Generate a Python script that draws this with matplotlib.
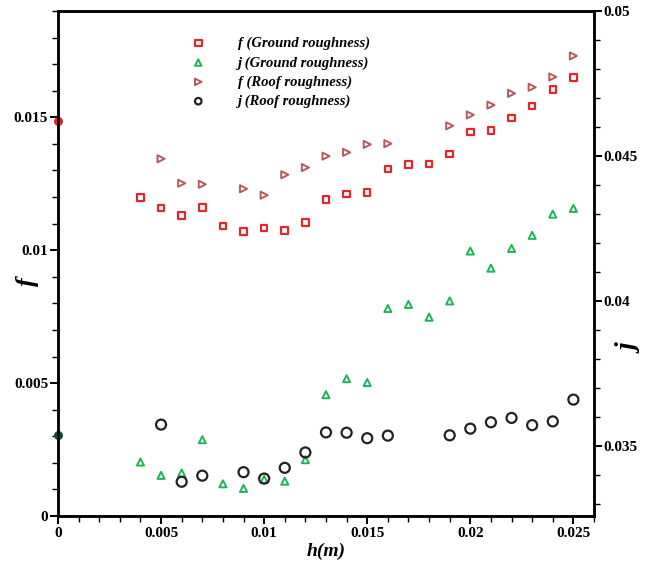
import matplotlib
matplotlib.use("Agg")
import matplotlib.pyplot as plt
from matplotlib.ticker import MultipleLocator

# data
h = [0.004, 0.005, 0.006, 0.007, 0.008, 0.009, 0.010, 0.011, 0.012, 0.013, 0.014,
     0.015, 0.016, 0.017, 0.018, 0.019, 0.020, 0.021, 0.022, 0.023, 0.024, 0.025]

f_ground = [0.01198, 0.01158, 0.01130, 0.01161, 0.01091, 0.01071, 0.01083, 0.01075,
            0.01104, 0.01190, 0.01212, 0.01218, 0.01305, 0.01323, 0.01325, 0.01362,
            0.01444, 0.01450, 0.01497, 0.01542, 0.01604, 0.01649]

j_ground = [0.03446, 0.03400, 0.03408, 0.03523, 0.03371, 0.03355, 0.03386, 0.03380,
            0.03454, 0.03678, 0.03733, 0.03720, 0.03975, 0.03989, 0.03945, 0.04001,
            0.04173, 0.04114, 0.04182, 0.04227, 0.04300, 0.04320]

h_roof = [0.005, 0.006, 0.007, 0.009, 0.010, 0.011, 0.012, 0.013, 0.014, 0.015,
          0.016, 0.019, 0.020, 0.021, 0.022, 0.023, 0.024, 0.025]

f_roof = [0.01344, 0.01252, 0.01248, 0.01231, 0.01207, 0.01284, 0.01311, 0.01354,
          0.01368, 0.01398, 0.01401, 0.01468, 0.01509, 0.01546, 0.01590, 0.01613,
          0.01652, 0.01731]

j_roof = [0.03575, 0.03378, 0.03399, 0.03411, 0.03389, 0.03426, 0.03479, 0.03548,
          0.03547, 0.03528, 0.03537, 0.03538, 0.03561, 0.03583, 0.03598, 0.03573,
          0.03586, 0.03661]

# smooth values at h = 0
h_smooth = [0.0]
f_smooth = [0.01485]
f_smooth_j = [0.00303]

plt.rcParams['font.family'] = ['Liberation Serif', 'DejaVu Serif']
plt.rcParams['font.weight'] = 'bold'

fig = plt.figure(figsize=(6.47, 5.64), dpi=100)
ax = fig.add_axes([0.0896, 0.0851, 0.8285, 0.8954])
ax2 = ax.twinx()

s1 = ax.scatter(h, f_ground, marker='s', s=22, facecolors='none', edgecolors='#e0282c',
                linewidths=1.6, label='f (Ground roughness)', zorder=3)
s3 = ax.scatter(h_roof, f_roof, marker='>', s=26, facecolors='none', edgecolors='#b35a5e',
                linewidths=1.4, label='f (Roof roughness)', zorder=3)
s2 = ax2.scatter(h, j_ground, marker='^', s=26, facecolors='none', edgecolors='#1fb357',
                 linewidths=1.4, label='j (Ground roughness)', zorder=3)
s4 = ax2.scatter(h_roof, j_roof, marker='o', s=52, facecolors='none', edgecolors='#222222',
                 linewidths=1.6, label='j (Roof roughness)', zorder=3)

ax.scatter(h_smooth, f_smooth, marker='o', s=30, color='#d8282c', zorder=5, clip_on=False)
ax.scatter(h_smooth, f_smooth_j, marker='o', s=30, color='#1c4a34', zorder=5, clip_on=False)

ax.set_xlim(0, 0.026)
ax.set_ylim(0, 0.019)
ax2.set_ylim(0.0326, 0.05)

ax.xaxis.set_major_locator(MultipleLocator(0.005))
ax.xaxis.set_minor_locator(MultipleLocator(0.001))
ax.yaxis.set_major_locator(MultipleLocator(0.005))
ax.yaxis.set_minor_locator(MultipleLocator(0.001))
ax2.yaxis.set_major_locator(MultipleLocator(0.005))
ax2.yaxis.set_minor_locator(MultipleLocator(0.001))

ax.set_xticks([0, 0.005, 0.01, 0.015, 0.02, 0.025])
ax.set_xticklabels(['0', '0.005', '0.01', '0.015', '0.02', '0.025'])
ax.set_yticks([0, 0.005, 0.01, 0.015])
ax.set_yticklabels(['0', '0.005', '0.01', '0.015'])
ax2.set_yticks([0.035, 0.04, 0.045, 0.05])
ax2.set_yticklabels(['0.035', '0.04', '0.045', '0.05'])

for a in [ax, ax2]:
    for sp in a.spines.values():
        sp.set_linewidth(1.8)
    a.tick_params(which='major', direction='out', length=6, width=1.4, labelsize=11)
    a.tick_params(which='minor', direction='out', length=4, width=1.0)
ax.tick_params(axis='x', pad=2)
ax.tick_params(axis='y', pad=1)
ax2.tick_params(axis='y', pad=1)

ax.set_xlabel('h(m)', fontsize=14, fontstyle='italic', fontweight='bold', labelpad=2)
ax.set_ylabel('f', fontsize=19, fontstyle='italic', fontweight='bold')
ax2.set_ylabel('j', fontsize=20, fontstyle='italic', fontweight='bold')
ax.yaxis.set_label_coords(-0.035, 0.465)
ax2.yaxis.set_label_coords(1.045, 0.33)

leg = ax.legend(handles=[s1, s2, s3, s4], loc='upper left', bbox_to_anchor=(0.21, 0.975),
                frameon=False, handletextpad=1.75, labelspacing=0.4,
                prop={'size': 10.5, 'style': 'italic', 'weight': 'bold'})
for hd in leg.legend_handles:
    hd.set_sizes([22])

fig.savefig('out.png', dpi=100)
